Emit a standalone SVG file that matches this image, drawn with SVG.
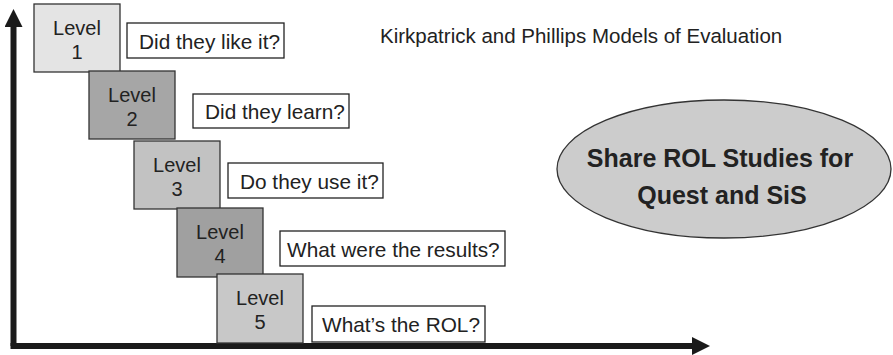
<svg xmlns="http://www.w3.org/2000/svg" width="893" height="355" viewBox="0 0 893 355">
<style>
.lvl{stroke:#333;stroke-width:1.3}
.q{fill:#fff;stroke:#222;stroke-width:1.3}
text{font-family:"Liberation Sans",Arial,sans-serif;fill:#222}
.lt{font-size:20px;text-anchor:middle}
.qt{font-size:20.8px}
.axis{stroke:#1a1a1a;stroke-width:6;fill:none}
.bt{font-size:25px;font-weight:bold;text-anchor:middle}
</style>
<defs>
<marker id="ah" markerWidth="3" markerHeight="3" refX="0" refY="1.5" orient="auto" markerUnits="strokeWidth">
<path d="M0,0 L3,1.5 L0,3 Z" fill="#1a1a1a"/>
</marker>
</defs>
<rect width="893" height="355" fill="#fff"/>
<g id="connectors">
<path class="axis" d="M13.5,346 L13.5,27" marker-end="url(#ah)"/>
<path class="axis" d="M10.5,346 L692,346" marker-end="url(#ah)"/>
</g>
<text x="380" y="43" style="font-size:20.5px">Kirkpatrick and Phillips Models of Evaluation</text>
<g id="level1"><rect class="lvl" x="34" y="4" width="86" height="68" fill="#e4e4e4"/><text class="lt" x="77" y="35">Level</text><text class="lt" x="77" y="59">1</text></g>
<g id="q1"><rect class="q" x="127" y="23" width="157" height="35"/><text class="qt" x="139" y="48.5">Did they like it?</text></g>
<g id="level2"><rect class="lvl" x="89" y="71" width="86" height="68" fill="#a6a6a6"/><text class="lt" x="132" y="102">Level</text><text class="lt" x="132" y="126">2</text></g>
<g id="q2"><rect class="q" x="193" y="94" width="156" height="34"/><text class="qt" x="205" y="119">Did they learn?</text></g>
<g id="level3"><rect class="lvl" x="134" y="141" width="86" height="68" fill="#c2c2c2"/><text class="lt" x="177" y="172">Level</text><text class="lt" x="177" y="196">3</text></g>
<g id="q3"><rect class="q" x="228" y="163" width="155" height="35"/><text class="qt" x="240" y="189">Do they use it?</text></g>
<g id="level4"><rect class="lvl" x="177" y="208" width="86" height="69" fill="#a0a0a0"/><text class="lt" x="220" y="239">Level</text><text class="lt" x="220" y="263">4</text></g>
<g id="q4"><rect class="q" x="280" y="231" width="225" height="35"/><text class="qt" x="287" y="256.5">What were the results?</text></g>
<g id="level5"><rect class="lvl" x="217" y="274" width="86" height="69" fill="#c8c8c8"/><text class="lt" x="260" y="305">Level</text><text class="lt" x="260" y="329">5</text></g>
<g id="q5"><rect class="q" x="312" y="306" width="173" height="36"/><text class="qt" x="322" y="331.5">What’s the ROL?</text></g>
<g id="share"><ellipse cx="724" cy="169" rx="167" ry="69" fill="#cccccc" stroke="#333" stroke-width="1.3"/><text class="bt" x="720" y="167">Share ROL Studies for</text><text class="bt" x="722" y="204">Quest and SiS</text></g>
</svg>
